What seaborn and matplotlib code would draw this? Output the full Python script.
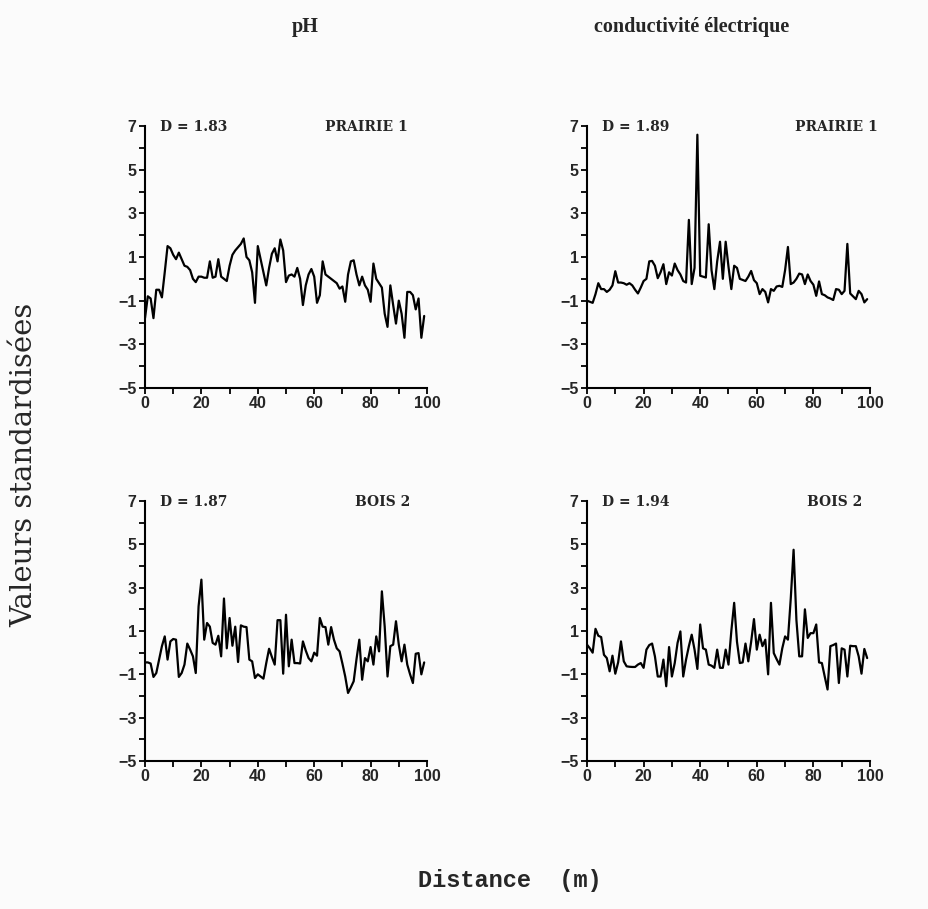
import numpy as np
import pandas as pd
import matplotlib
matplotlib.use("Agg")
import matplotlib.pyplot as plt
import seaborn as sns

# Distance along the transect (m)
distance = list(range(100))

# Standardised pH, meadow transect
ph_prairie = [
    -1.8, -0.8, -0.9, -1.8, -0.5, -0.5, -0.85, 0.3, 1.5, 1.4,
    1.1, 0.9, 1.2, 0.9, 0.6, 0.55, 0.4, 0.0, -0.15, 0.1,
    0.1, 0.05, 0.05, 0.8, 0.05, 0.1, 0.9, 0.1, 0.0, -0.1,
    0.6, 1.1, 1.3, 1.45, 1.6, 1.85, 1.0, 0.85, 0.3, -1.1,
    1.5, 0.9, 0.3, -0.3, 0.5, 1.15, 1.4, 0.8, 1.8, 1.3,
    -0.15, 0.15, 0.2, 0.1, 0.5, 0.0, -1.2, -0.3, 0.2, 0.45,
    0.1, -1.1, -0.75, 0.8, 0.2, 0.1, 0.0, -0.1, -0.2, -0.45,
    -0.35, -1.05, 0.2, 0.8, 0.85, 0.2, -0.3, 0.1, -0.3, -0.5,
    -1.05, 0.7, 0.0, -0.2, -0.4, -1.6, -2.2, -0.3, -1.2, -2.05,
    -1.0, -1.6, -2.7, -0.6, -0.6, -0.75, -1.4, -0.9, -2.7, -1.7,
]

# Standardised electrical conductivity, meadow transect
ce_prairie = [
    -1.0, -1.05, -1.1, -0.7, -0.2, -0.47, -0.47, -0.6, -0.5, -0.3,
    0.35, -0.17, -0.17, -0.2, -0.27, -0.2, -0.3, -0.5, -0.67, -0.4,
    -0.1, 0.0, 0.8, 0.82, 0.6, 0.03, 0.3, 0.67, -0.24, 0.3,
    0.15, 0.7, 0.4, 0.2, -0.1, -0.17, 2.7, -0.24, 0.5, 6.6,
    0.14, 0.1, 0.06, 2.5, 0.4, -0.47, 0.8, 1.7, 0.0, 1.7,
    0.55, -0.47, 0.6, 0.5, 0.0, -0.05, -0.1, 0.1, 0.36, -0.06,
    -0.2, -0.7, -0.47, -0.6, -1.08, -0.47, -0.55, -0.35, -0.32, -0.37,
    0.4, 1.46, -0.24, -0.17, 0.0, 0.24, 0.2, -0.24, 0.2, -0.1,
    -0.27, -0.78, -0.12, -0.7, -0.75, -0.85, -0.9, -0.97, -0.47, -0.5,
    -0.7, -0.55, 1.6, -0.67, -0.8, -0.93, -0.55, -0.7, -1.08, -0.93,
]

# Standardised pH, woodland transect
ph_bois = [
    -0.45, -0.45, -0.5, -1.12, -0.94, -0.32, 0.3, 0.75, -0.32, 0.52,
    0.63, 0.6, -1.12, -0.94, -0.55, 0.42, 0.14, -0.17, -0.94, 2.14,
    3.37, 0.6, 1.37, 1.2, 0.45, 0.37, 0.78, -0.17, 2.5, 0.2,
    1.6, 0.32, 1.2, -0.43, 1.26, 1.2, 1.18, -0.32, -0.4, -1.17,
    -1.0, -1.1, -1.2, -0.48, 0.18, -0.2, -0.55, 1.5, 1.5, -0.97,
    1.75, -0.63, 0.6, -0.48, -0.48, -0.5, 0.52, 0.1, -0.25, -0.4,
    0.0, -0.14, 1.6, 1.2, 1.18, 0.37, 1.18, 0.6, 0.2, 0.06,
    -0.5, -1.1, -1.86, -1.6, -1.32, -0.3, 0.6, -1.25, -0.25, -0.4,
    0.26, -0.55, 0.75, 0.06, 2.83, 1.2, -1.1, 0.3, 0.37, 1.45,
    0.37, -0.4, 0.37, -0.55, -1.0, -1.4, -0.05, -0.02, -1.0, -0.45,
]

# Standardised electrical conductivity, woodland transect
ce_bois = [
    0.37, 0.2, 0.0, 1.1, 0.78, 0.72, -0.1, -0.25, -0.86, -0.14,
    -0.97, -0.45, 0.52, -0.4, -0.63, -0.65, -0.66, -0.66, -0.55, -0.48,
    -0.7, 0.14, 0.35, 0.42, -0.17, -1.1, -1.1, -0.32, -1.55, 0.26,
    -1.1, -0.48, 0.45, 0.98, -1.1, -0.32, 0.3, 0.83, 0.14, -0.75,
    1.3, 0.2, 0.14, -0.55, -0.6, -0.7, 0.14, -0.7, -0.7, 0.14,
    -0.55, 1.0, 2.3, 0.5, -0.48, -0.45, 0.42, -0.4, 0.5, 1.55,
    0.14, 0.83, 0.3, 0.6, -1.0, 2.3, -0.02, -0.3, -0.55, 0.2,
    0.75, 0.6, 2.5, 4.75, 1.5, -0.17, -0.17, 2.0, 0.68, 0.9,
    0.9, 1.3, -0.45, -0.48, -1.1, -1.7, 0.3, 0.35, 0.42, -1.4,
    0.2, 0.14, -1.1, 0.32, 0.3, 0.3, -0.17, -0.97, 0.17, -0.25,
]

column_titles = ["pH", "conductivité électrique"]
site_labels = ["PRAIRIE 1", "BOIS 2"]
fractal_d = [["D = 1.83", "D = 1.89"], ["D = 1.87", "D = 1.94"]]
y_ticks = [-5, -3, -1, 1, 3, 5, 7]
x_ticks = [0, 20, 40, 60, 80, 100]

series = [[ph_prairie, ce_prairie], [ph_bois, ce_bois]]

sns.set_style("ticks")
plt.rcParams["font.family"] = ["Liberation Serif", "DejaVu Serif"]

W, H = 929, 909
fig = plt.figure(figsize=(W / 100, H / 100), dpi=100)
fig.patch.set_facecolor("#fbfbfb")

col_left = [145, 587]
col_width = [282, 283]
row_top = [126, 501]
row_height = [262, 260]

# right edge (pixels) of the site label in each column
site_right = [[408, 878], [410, 862]]

tick_font = dict(family="Liberation Sans", weight="bold", size=11.5)
note_font = dict(family="DejaVu Serif", weight="bold", size=10)

for r in range(2):
    for c in range(2):
        left = col_left[c] / W
        bottom = 1 - (row_top[r] + row_height[r]) / H
        ax = fig.add_axes([left, bottom, col_width[c] / W, row_height[r] / H])
        ax.set_facecolor("#fbfbfb")
        df = pd.DataFrame({"distance": distance, "valeur": series[r][c]})
        sns.lineplot(data=df, x="distance", y="valeur", ax=ax,
                     color="black", linewidth=1.6)
        ax.set_xlim(0, 100)
        ax.set_ylim(-5, 7)
        ax.set_xticks(x_ticks)
        ax.set_xticks(range(0, 101, 10), minor=True)
        ax.set_yticks(y_ticks)
        ax.set_yticks(range(-5, 8), minor=True)
        ax.set_xticklabels([str(v) for v in x_ticks], **tick_font)
        ax.set_yticklabels([str(v).replace("-", "\u2212") for v in y_ticks], **tick_font)
        ax.tick_params(which="both", direction="out", length=4, width=1.3,
                       color="black", pad=2)
        ax.set_xlabel("")
        ax.set_ylabel("")
        sns.despine(ax=ax)
        for s in ("left", "bottom"):
            ax.spines[s].set_linewidth(1.5)
            ax.spines[s].set_color("black")
        ax.text(0.053, 0.995, fractal_d[r][c], transform=ax.transAxes,
                ha="left", va="center", **note_font)
        sx = (site_right[r][c] - col_left[c]) / col_width[c]
        ax.text(sx, 0.995, site_labels[r], transform=ax.transAxes,
                ha="right", va="center", **note_font)

fig.text(305 / W, 1 - 27 / H, column_titles[0], ha="center", va="center",
         fontsize=14.5, fontweight="bold")
fig.text(692 / W, 1 - 27 / H, column_titles[1], ha="center", va="center",
         fontsize=14.5, fontweight="bold")
fig.text(24 / W, 1 - 465 / H, "Valeurs standardisées", rotation=90,
         ha="center", va="center", fontsize=21, family="DejaVu Serif")
fig.text(510 / W, 1 - 880 / H, "Distance  (m)", ha="center", va="center",
         fontsize=17, family="Liberation Mono", fontweight="bold")

fig.savefig("out.png", dpi=100, facecolor=fig.get_facecolor())
